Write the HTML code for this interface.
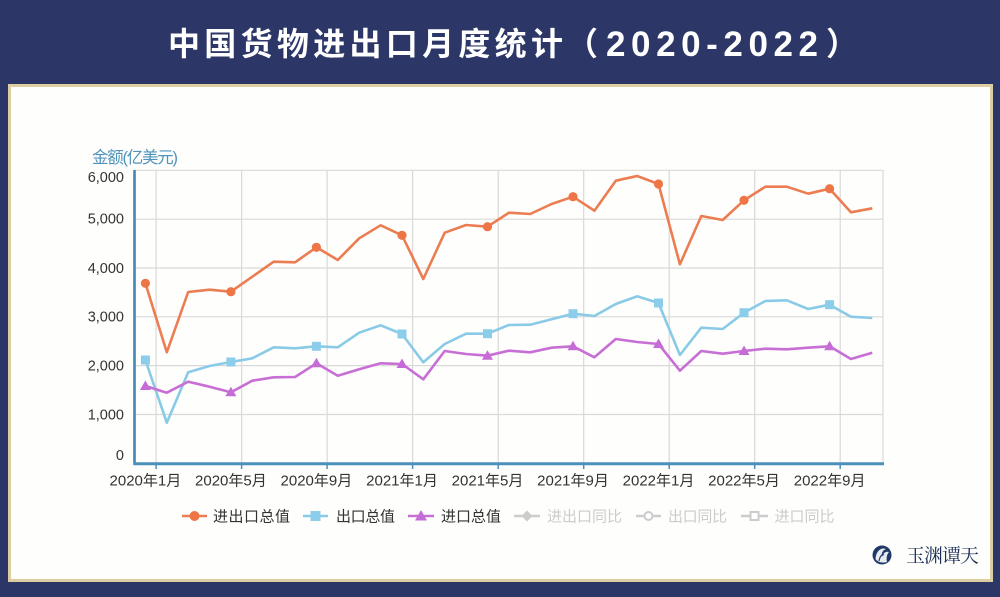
<!DOCTYPE html>
<html>
<head>
<meta charset="utf-8">
<style>
html,body{margin:0;padding:0;background:#2c3768;}
svg{display:block;}
text{font-family:"Liberation Sans","Noto Sans CJK SC",sans-serif;}
</style>
</head>
<body>
<svg width="1000" height="597" viewBox="0 0 1000 597" xmlns="http://www.w3.org/2000/svg">
  <rect x="0" y="0" width="1000" height="597" fill="#2c3768"/>
  <!-- Title -->
  <g fill="#ffffff" font-weight="700" font-size="32">
    <text x="168" y="55" textLength="395" lengthAdjust="spacing" style="font-family:'Noto Sans CJK SC','Liberation Sans',sans-serif">中国货物进出口月度统计</text>
    <text x="566" y="55" style="font-family:'Noto Sans CJK SC',sans-serif">（</text>
    <text x="606" y="56" font-size="35" textLength="212" lengthAdjust="spacing">2020-2022</text>
    <text x="826" y="55" style="font-family:'Noto Sans CJK SC',sans-serif">）</text>
  </g>
  <!-- Panel -->
  <rect x="8.5" y="84.5" width="984" height="497" fill="#a89a78"/>
  <rect x="9.5" y="85.5" width="982" height="495" fill="#fefefc" stroke="#ddcda2" stroke-width="3"/>

  <!-- Grid -->
  <g stroke="#d9d9d9" stroke-width="1.2" fill="none">
    <line x1="134" y1="170.3" x2="883" y2="170.3"/>
    <line x1="134" y1="219.2" x2="883" y2="219.2"/>
    <line x1="134" y1="268" x2="883" y2="268"/>
    <line x1="134" y1="316.8" x2="883" y2="316.8"/>
    <line x1="134" y1="365.6" x2="883" y2="365.6"/>
    <line x1="134" y1="414.5" x2="883" y2="414.5"/>
    <line x1="156.1" y1="170" x2="156.1" y2="463"/>
    <line x1="241.6" y1="170" x2="241.6" y2="463"/>
    <line x1="327.1" y1="170" x2="327.1" y2="463"/>
    <line x1="412.6" y1="170" x2="412.6" y2="463"/>
    <line x1="498.2" y1="170" x2="498.2" y2="463"/>
    <line x1="583.7" y1="170" x2="583.7" y2="463"/>
    <line x1="669.2" y1="170" x2="669.2" y2="463"/>
    <line x1="754.7" y1="170" x2="754.7" y2="463"/>
    <line x1="840.2" y1="170" x2="840.2" y2="463"/>
    <line x1="883" y1="170" x2="883" y2="463"/>
  </g>
  <!-- Axes -->
  <line x1="134.5" y1="170" x2="134.5" y2="465" stroke="#3f87b4" stroke-width="2.6"/>
  <line x1="133.5" y1="463.8" x2="884" y2="463.8" stroke="#4a90bb" stroke-width="3"/>
  <g stroke="#4a90bb" stroke-width="1.5">
    <line x1="156.1" y1="464" x2="156.1" y2="469"/>
    <line x1="241.6" y1="464" x2="241.6" y2="469"/>
    <line x1="327.1" y1="464" x2="327.1" y2="469"/>
    <line x1="412.6" y1="464" x2="412.6" y2="469"/>
    <line x1="498.2" y1="464" x2="498.2" y2="469"/>
    <line x1="583.7" y1="464" x2="583.7" y2="469"/>
    <line x1="669.2" y1="464" x2="669.2" y2="469"/>
    <line x1="754.7" y1="464" x2="754.7" y2="469"/>
    <line x1="840.2" y1="464" x2="840.2" y2="469"/>
  </g>

  <!-- Y axis title -->
  <text x="92" y="163" font-size="16.5" fill="#4f93bb" textLength="86" lengthAdjust="spacing">金额(亿美元)</text>

  <!-- Y labels -->
  <g font-size="14.5" fill="#333333" text-anchor="end">
    <text x="124" y="182">6,000</text>
    <text x="124" y="223.5">5,000</text>
    <text x="124" y="273">4,000</text>
    <text x="124" y="321.5">3,000</text>
    <text x="124" y="370.5">2,000</text>
    <text x="124" y="419.5">1,000</text>
    <text x="124" y="460">0</text>
  </g>

  <!-- X labels -->
  <g font-size="15" fill="#333333" text-anchor="middle">
    <text x="145.4" y="485.5">2020年1月</text>
    <text x="230.9" y="485.5">2020年5月</text>
    <text x="316.4" y="485.5">2020年9月</text>
    <text x="402" y="485.5">2021年1月</text>
    <text x="487.5" y="485.5">2021年5月</text>
    <text x="573" y="485.5">2021年9月</text>
    <text x="658.5" y="485.5">2022年1月</text>
    <text x="744" y="485.5">2022年5月</text>
    <text x="829.6" y="485.5">2022年9月</text>
  </g>

  <!-- Series -->
  <polyline fill="none" stroke="#ec7d52" stroke-width="2.6" stroke-linejoin="round" points="145.4,283.3 166.8,352.3 188.2,292 209.5,289.7 230.9,291.7 252.3,276.7 273.7,261.7 295.1,262.3 316.4,247.3 337.8,260 359.2,238.3 380.6,225.3 402,235.3 423.3,279 444.7,232.7 466.1,225 487.5,226.7 508.9,212.7 530.2,214 551.6,204 573,196.7 594.4,210.7 615.8,180.7 637.1,176 658.5,184 679.9,264.3 701.3,216 722.7,220 744,200.3 765.4,186.7 786.8,186.7 808.2,193.7 829.6,188.7 850.9,212.3 872.3,208.3"/>
  <polyline fill="none" stroke="#89cbe7" stroke-width="2.6" stroke-linejoin="round" points="145.4,360 166.8,422.7 188.2,372.3 209.5,366 230.9,362 252.3,358.3 273.7,347.3 295.1,348.3 316.4,346.3 337.8,347.3 359.2,332.7 380.6,325.3 402,334 423.3,362.3 444.7,344 466.1,333.7 487.5,333.7 508.9,325 530.2,324.7 551.6,319.3 573,313.7 594.4,316 615.8,304 637.1,296.3 658.5,303 679.9,355 701.3,327.7 722.7,329 744,312.7 765.4,301 786.8,300.3 808.2,309 829.6,304.7 850.9,316.7 872.3,318"/>
  <polyline fill="none" stroke="#c76fd5" stroke-width="2.6" stroke-linejoin="round" points="145.4,386 166.8,392.7 188.2,381.7 209.5,386.7 230.9,392.3 252.3,380.7 273.7,377.3 295.1,377 316.4,363.3 337.8,375.7 359.2,369.3 380.6,363.3 402,364 423.3,379.3 444.7,351 466.1,354 487.5,355.7 508.9,350.7 530.2,352.3 551.6,347.7 573,346.3 594.4,357.3 615.8,339 637.1,342 658.5,344 679.9,370.7 701.3,351 722.7,353.7 744,351 765.4,348.7 786.8,349.3 808.2,347.7 829.6,346.3 850.9,359 872.3,352.7"/>

  <!-- Markers orange -->
  <g fill="#ee7546">
    <circle cx="145.4" cy="283.3" r="4.6"/>
    <circle cx="230.9" cy="291.7" r="4.6"/>
    <circle cx="316.4" cy="247.3" r="4.6"/>
    <circle cx="402" cy="235.3" r="4.6"/>
    <circle cx="487.5" cy="226.7" r="4.6"/>
    <circle cx="573" cy="196.7" r="4.6"/>
    <circle cx="658.5" cy="184" r="4.6"/>
    <circle cx="744" cy="200.3" r="4.6"/>
    <circle cx="829.6" cy="188.7" r="4.6"/>
  </g>
  <!-- Markers blue -->
  <g fill="#8ccdeb">
    <rect x="140.9" y="355.5" width="9" height="9"/>
    <rect x="226.4" y="357.5" width="9" height="9"/>
    <rect x="311.9" y="341.8" width="9" height="9"/>
    <rect x="397.5" y="329.5" width="9" height="9"/>
    <rect x="483" y="329.2" width="9" height="9"/>
    <rect x="568.5" y="309.2" width="9" height="9"/>
    <rect x="654" y="298.5" width="9" height="9"/>
    <rect x="739.5" y="308.2" width="9" height="9"/>
    <rect x="825.1" y="300.2" width="9" height="9"/>
  </g>
  <!-- Markers purple -->
  <g fill="#c66cd6">
    <polygon points="145.4,380.5 139.9,390 150.9,390"/>
    <polygon points="230.9,386.8 225.4,396.3 236.4,396.3"/>
    <polygon points="316.4,357.8 310.9,367.3 321.9,367.3"/>
    <polygon points="402,358.5 396.5,368 407.5,368"/>
    <polygon points="487.5,350.2 482,359.7 493,359.7"/>
    <polygon points="573,340.8 567.5,350.3 578.5,350.3"/>
    <polygon points="658.5,338.5 653,348 664,348"/>
    <polygon points="744,345.5 738.5,355 749.5,355"/>
    <polygon points="829.6,340.8 824.1,350.3 835.1,350.3"/>
  </g>

  <!-- Legend -->
  <g stroke-width="2.5">
    <line x1="182" y1="516" x2="207" y2="516" stroke="#ec7d52"/>
    <circle cx="194.5" cy="516" r="5" fill="#ee7546" stroke="none"/>
    <line x1="303" y1="516" x2="328" y2="516" stroke="#89cbe7"/>
    <rect x="310.5" y="511" width="10" height="10" fill="#8ccdeb" stroke="none"/>
    <line x1="408" y1="516" x2="434" y2="516" stroke="#c76fd5"/>
    <polygon points="421,510 415,520.5 427,520.5" fill="#c66cd6" stroke="none"/>
    <line x1="514" y1="516" x2="540" y2="516" stroke="#cccccc"/>
    <polygon points="527,510.5 532.5,516 527,521.5 521.5,516" fill="#cccccc" stroke="none"/>
    <line x1="636" y1="516" x2="661" y2="516" stroke="#cccccc"/>
    <circle cx="648.5" cy="516" r="4" fill="#ffffff" stroke="#cccccc" stroke-width="2"/>
    <line x1="741" y1="516" x2="768" y2="516" stroke="#cccccc"/>
    <rect x="750.5" y="512" width="8" height="8" fill="#ffffff" stroke="#cccccc" stroke-width="2"/>
  </g>
  <g font-size="15">
    <text x="213" y="521.5" fill="#333333" textLength="77" lengthAdjust="spacing">进出口总值</text>
    <text x="336" y="521.5" fill="#333333" textLength="59" lengthAdjust="spacing">出口总值</text>
    <text x="441" y="521.5" fill="#333333" textLength="60" lengthAdjust="spacing">进口总值</text>
    <text x="547" y="521.5" fill="#cccccc" textLength="75" lengthAdjust="spacing">进出口同比</text>
    <text x="668" y="521.5" fill="#cccccc" textLength="59" lengthAdjust="spacing">出口同比</text>
    <text x="774.5" y="521.5" fill="#cccccc" textLength="60" lengthAdjust="spacing">进口同比</text>
  </g>

  <!-- Logo -->
  <circle cx="882" cy="555" r="9.5" fill="#1f3a68"/>
  <path d="M875.5,559 C876,551 881,547 886,549 C883,550 881,553 882,557 C883,553 886,551 889,552 C887,554 886,558 887,562 C884,563 878,563 875.5,559 Z" fill="#ffffff" opacity="0.9"/>
  <path d="M879,561 C880,556 882,554 884,555" stroke="#1f3a68" stroke-width="1.2" fill="none"/>
  <text x="906" y="562" font-size="19" fill="#1d2f58" textLength="73" lengthAdjust="spacing" style="font-family:'Noto Serif CJK SC','Liberation Serif',serif">玉渊谭天</text>
</svg>
</body>
</html>
